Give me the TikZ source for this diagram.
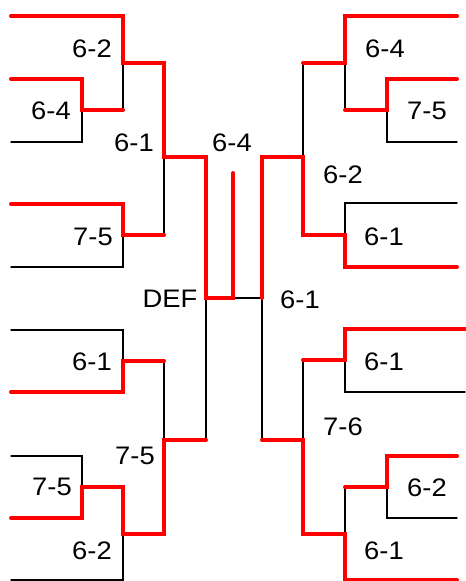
\documentclass[tikz,border=0pt]{standalone}
\usepackage{fontspec}
\setmainfont{Liberation Sans}[FakeStretch=1.08]
\usepackage{tkz-euclide}
\definecolor{WinClr}{RGB}{255,0,0}
\definecolor{LossClr}{RGB}{0,0,0}

\begin{document}
\begin{tikzpicture}[x=0.75pt,y=-0.75pt,
  every node/.style={font=\fontsize{19}{22}\selectfont,inner sep=0pt}]
\useasboundingbox (0,0) rectangle (465,581);
\tkzSetUpLine[line width=1.1pt,color=LossClr]

% left half
\tkzDefPoints{11/16/a16,123/16/c16,123/63/c63,164/63/d63,164/157/d157,206/157/e157,206/298/e298,233/298/f298,233/173/f173}
\tkzDefPoints{11/79/a79,82/79/b79,82/110/b110,123/110/c110,11/142/a142,82/142/b142}
\tkzDefPoints{11/204/a204,123/204/c204,123/235/c235,164/235/d235,11/267/a267,123/267/c267}
\tkzDefPoints{11/330/a330,123/330/c330,123/361/c361,164/361/d361,11/392/a392,123/392/c392}
\tkzDefPoints{11/456/a456,82/456/b456,82/487/b487,123/487/c487,11/518/a518,82/518/b518}
\tkzDefPoints{11/580/a580,123/580/c580,123/534/c534,164/534/d534,164/440/d440,206/440/e440}

% right half
\tkzDefPoints{262/157/g157,262/298/g298,262/440/g440}
\tkzDefPoints{303/63/h63,303/157/h157,303/235/h235,303/360/h360,303/440/h440,303/534/h534}
\tkzDefPoints{345/16/i16,345/63/i63,345/110/i110,345/203/i203,345/235/i235,345/267/i267}
\tkzDefPoints{345/329/i329,345/360/i360,345/392/i392,345/487/i487,345/534/i534,345/580/i580}
\tkzDefPoints{387/79/j79,387/110/j110,387/142/j142,387/456/j456,387/487/j487,387/518/j518}
\tkzDefPoints{457/16/k16,457/79/k79,457/142/k142,457/203/k203,457/267/k267}
\tkzDefPoints{457/456/k456,457/518/k518,457/580/k580,465/329/m329,465/392/m392}

% losers
\tkzDrawPolySeg(a142,b142,b110)
\tkzDrawPolySeg(a267,c267,c235)
\tkzDrawPolySeg(a330,c330,c361)
\tkzDrawPolySeg(a456,b456,b487)
\tkzDrawPolySeg(a580,c580,c534)
\tkzDrawSegments(c63,c110 d157,d235 d361,d440 e298,e440 f298,g298 g298,g440)
\tkzDrawSegments(h63,h157 i63,i110 h360,h440 i487,i534)
\tkzDrawPolySeg(k142,j142,j110)
\tkzDrawPolySeg(k203,i203,i235)
\tkzDrawPolySeg(m392,i392,i360)
\tkzDrawPolySeg(k518,j518,j487)

% winners
\tkzDrawPolySeg[color=WinClr,line width=3pt](a16,c16,c63,d63,d157,e157,e298,f298,f173)
\tkzDrawPolySeg[color=WinClr,line width=3pt](a79,b79,b110,c110)
\tkzDrawPolySeg[color=WinClr,line width=3pt](a204,c204,c235,d235)
\tkzDrawPolySeg[color=WinClr,line width=3pt](a392,c392,c361,d361)
\tkzDrawPolySeg[color=WinClr,line width=3pt](a518,b518,b487,c487,c534,d534,d440,e440)
\tkzDrawPolySeg[color=WinClr,line width=3pt](k267,i267,i235,h235,h157,g157,g298)
\tkzDrawPolySeg[color=WinClr,line width=3pt](k16,i16,i63,h63)
\tkzDrawPolySeg[color=WinClr,line width=3pt](k79,j79,j110,i110)
\tkzDrawPolySeg[color=WinClr,line width=3pt](m329,i329,i360,h360)
\tkzDrawPolySeg[color=WinClr,line width=3pt](k580,i580,i534,h534,h440,g440)
\tkzDrawPolySeg[color=WinClr,line width=3pt](k456,j456,j487,i487)

% scores
\node (sL1) at (92,49) {6-2};
\node (sL2) at (51,111) {6-4};
\node (sL3) at (134,143) {6-1};
\node (sL4) at (93,237) {7-5};
\node (sL5) at (92,362) {6-1};
\node (sL6) at (52,487) {7-5};
\node (sL7) at (135,456) {7-5};
\node (sL8) at (92,551) {6-2};

\node (sC1) at (232,143) {6-4};
\node (sC2) at (170,299) {DEF};
\node (sC3) at (300,300) {6-1};

\node (sR1) at (385,49) {6-4};
\node (sR2) at (427,111) {7-5};
\node (sR3) at (343,175) {6-2};
\node (sR4) at (384,237) {6-1};
\node (sR5) at (384,362) {6-1};
\node (sR6) at (343,427) {7-6};
\node (sR7) at (427,488) {6-2};
\node (sR8) at (384,551) {6-1};

\end{tikzpicture}
\end{document}
